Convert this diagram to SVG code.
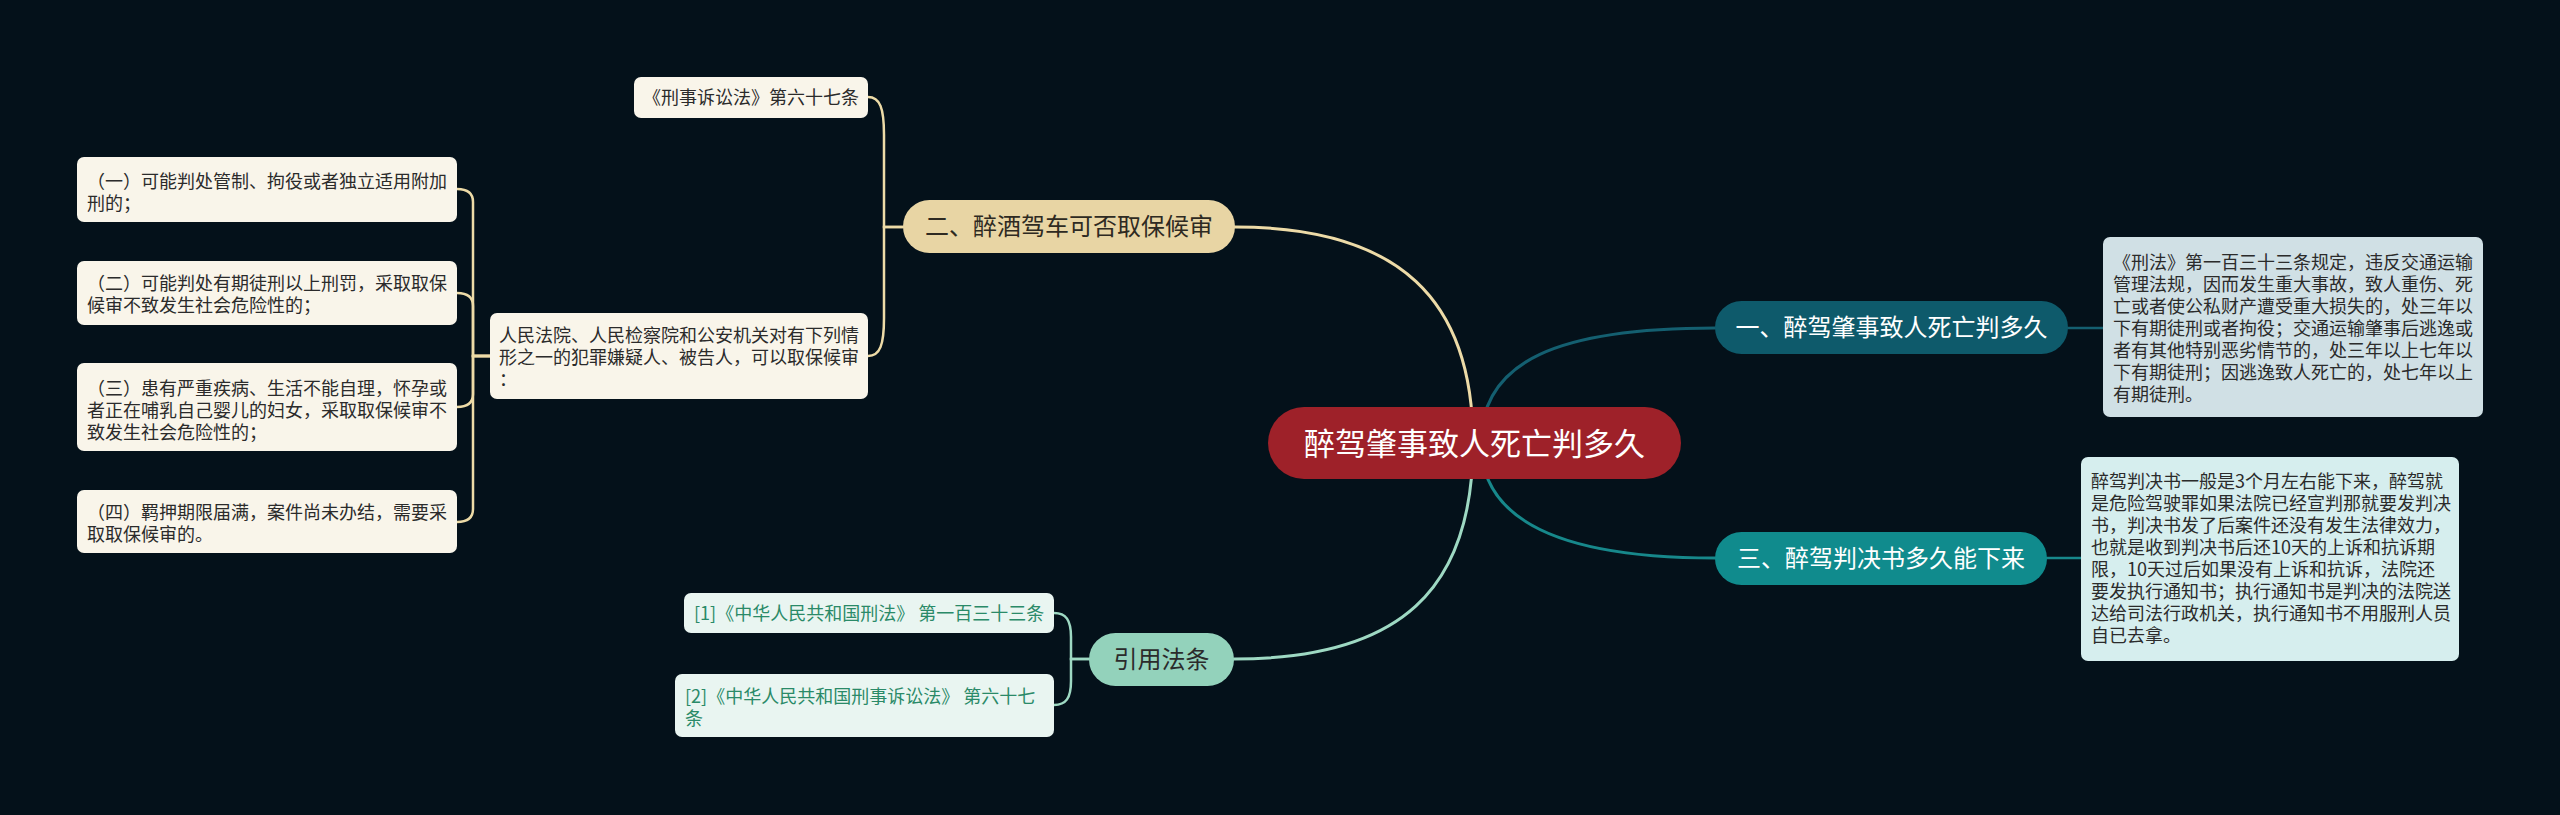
<svg xmlns="http://www.w3.org/2000/svg" width="2560" height="815" viewBox="0 0 2560 815">
<style>
text{font-family:"Noto Sans CJK SC","Noto Sans",sans-serif;}
.c{fill:none;stroke-width:3;stroke-linecap:round}
.c2{fill:none;stroke-width:2.5;stroke-linecap:round}
.tan{stroke:#eddba7}
.teal{stroke:#145f70}
.cyan{stroke:#17888b}
.mint{stroke:#9ed9c3}
.box{font-size:18px;fill:#2b2b2b}
.main{font-size:24px;text-anchor:middle}
</style>
<rect width="2560" height="815" fill="#04111a"/>
<g id="connectors">
  <path class="c tan" d="M1235 227 C1400 227 1473 300 1473 443"/>
  <path class="c teal" d="M1481 443 C1481 360 1560 328 1715 328"/>
  <path class="c cyan" d="M1481 443 C1481 520 1560 558 1715 558"/>
  <path class="c mint" d="M1473 443 C1473 590 1400 659 1234 659"/>
  <path class="c2 teal" d="M2068 328 H2103"/>
  <path class="c2 cyan" d="M2047 558 H2081"/>
  <path class="c2 tan" d="M903 227 H884 V135 C884 108 880 97 868 97"/>
  <path class="c2 tan" d="M903 227 H884 V318 C884 345 880 356 868 356"/>
  <path class="c2 tan" d="M490 356 H473 V202 Q473 189 457 189"/>
  <path class="c2 tan" d="M490 356 H473 V306 Q473 293 457 293"/>
  <path class="c2 tan" d="M490 356 H473 V394 Q473 407 457 407"/>
  <path class="c2 tan" d="M490 356 H473 V509 Q473 522 457 522"/>
  <path class="c2 mint" d="M1089 659 H1071 V637 C1071 620 1066 613 1054 613"/>
  <path class="c2 mint" d="M1089 659 H1071 V681 C1071 698 1066 705 1054 705"/>
</g>
<g id="center">
  <rect x="1268" y="407" width="413" height="72" rx="36" fill="#9e2129"/>
  <text x="1474.5" y="455" font-size="31" text-anchor="middle" fill="#ffffff">醉驾肇事致人死亡判多久</text>
</g>
<g id="n1">
  <rect x="1715" y="301" width="353" height="53" rx="26.5" fill="#0e5a6b"/>
  <text class="main" x="1891.5" y="336" fill="#ffffff">一、醉驾肇事致人死亡判多久</text>
</g>
<g id="n1d">
  <rect x="2103" y="237" width="380" height="180" rx="7" fill="#d0e0e5"/>
  <text class="box" x="2113"><tspan x="2113" y="269">《刑法》第一百三十三条规定，违反交通运输</tspan><tspan x="2113" y="291">管理法规，因而发生重大事故，致人重伤、死</tspan><tspan x="2113" y="313">亡或者使公私财产遭受重大损失的，处三年以</tspan><tspan x="2113" y="335">下有期徒刑或者拘役；交通运输肇事后逃逸或</tspan><tspan x="2113" y="357">者有其他特别恶劣情节的，处三年以上七年以</tspan><tspan x="2113" y="379">下有期徒刑；因逃逸致人死亡的，处七年以上</tspan><tspan x="2113" y="401">有期徒刑。</tspan></text>
</g>
<g id="n3">
  <rect x="1715" y="532" width="332" height="53" rx="26.5" fill="#108b8d"/>
  <text class="main" x="1881" y="567" fill="#ffffff">三、醉驾判决书多久能下来</text>
</g>
<g id="n3d">
  <rect x="2081" y="457" width="378" height="204" rx="7" fill="#d6eeee"/>
  <text class="box"><tspan x="2091" y="488">醉驾判决书一般是3个月左右能下来，醉驾就</tspan><tspan x="2091" y="510">是危险驾驶罪如果法院已经宣判那就要发判决</tspan><tspan x="2091" y="532">书，判决书发了后案件还没有发生法律效力，</tspan><tspan x="2091" y="554">也就是收到判决书后还10天的上诉和抗诉期</tspan><tspan x="2091" y="576">限，10天过后如果没有上诉和抗诉，法院还</tspan><tspan x="2091" y="598">要发执行通知书；执行通知书是判决的法院送</tspan><tspan x="2091" y="620">达给司法行政机关，执行通知书不用服刑人员</tspan><tspan x="2091" y="642">自已去拿。</tspan></text>
</g>
<g id="n2">
  <rect x="903" y="200" width="332" height="53" rx="26.5" fill="#e8d5a4"/>
  <text class="main" x="1069" y="235" fill="#2e2a22">二、醉酒驾车可否取保候审</text>
</g>
<g id="n2a">
  <rect x="634" y="77" width="234" height="41" rx="7" fill="#f9f5ea"/>
  <text class="box" x="643" y="104">《刑事诉讼法》第六十七条</text>
</g>
<g id="n2b">
  <rect x="490" y="313" width="378" height="86" rx="7" fill="#f9f5ea"/>
  <text class="box"><tspan x="499" y="342">人民法院、人民检察院和公安机关对有下列情</tspan><tspan x="499" y="364">形之一的犯罪嫌疑人、被告人，可以取保候审</tspan><tspan x="499" y="386">：</tspan></text>
</g>
<g id="n2b1">
  <rect x="77" y="157" width="380" height="65" rx="7" fill="#f9f5ea"/>
  <text class="box"><tspan x="87" y="188">（一）可能判处管制、拘役或者独立适用附加</tspan><tspan x="87" y="210">刑的；</tspan></text>
</g>
<g id="n2b2">
  <rect x="77" y="261" width="380" height="64" rx="7" fill="#f9f5ea"/>
  <text class="box"><tspan x="87" y="290">（二）可能判处有期徒刑以上刑罚，采取取保</tspan><tspan x="87" y="312">候审不致发生社会危险性的；</tspan></text>
</g>
<g id="n2b3">
  <rect x="77" y="363" width="380" height="88" rx="7" fill="#f9f5ea"/>
  <text class="box"><tspan x="87" y="395">（三）患有严重疾病、生活不能自理，怀孕或</tspan><tspan x="87" y="417">者正在哺乳自己婴儿的妇女，采取取保候审不</tspan><tspan x="87" y="439">致发生社会危险性的；</tspan></text>
</g>
<g id="n2b4">
  <rect x="77" y="490" width="380" height="63" rx="7" fill="#f9f5ea"/>
  <text class="box"><tspan x="87" y="519">（四）羁押期限届满，案件尚未办结，需要采</tspan><tspan x="87" y="541">取取保候审的。</tspan></text>
</g>
<g id="n4">
  <rect x="1089" y="633" width="145" height="53" rx="26.5" fill="#93d2bb"/>
  <text class="main" x="1161.5" y="668" fill="#2b2b2b">引用法条</text>
</g>
<g id="n4a">
  <rect x="684" y="593" width="370" height="40" rx="7" fill="#e9f5f1"/>
  <text class="box" x="694" y="620" style="fill:#2a8a68">[1]《中华人民共和国刑法》 第一百三十三条</text>
</g>
<g id="n4b">
  <rect x="675" y="674" width="379" height="63" rx="7" fill="#e9f5f1"/>
  <text class="box" style="fill:#2a8a68"><tspan x="685" y="703">[2]《中华人民共和国刑事诉讼法》 第六十七</tspan><tspan x="685" y="725">条</tspan></text>
</g>
</svg>
